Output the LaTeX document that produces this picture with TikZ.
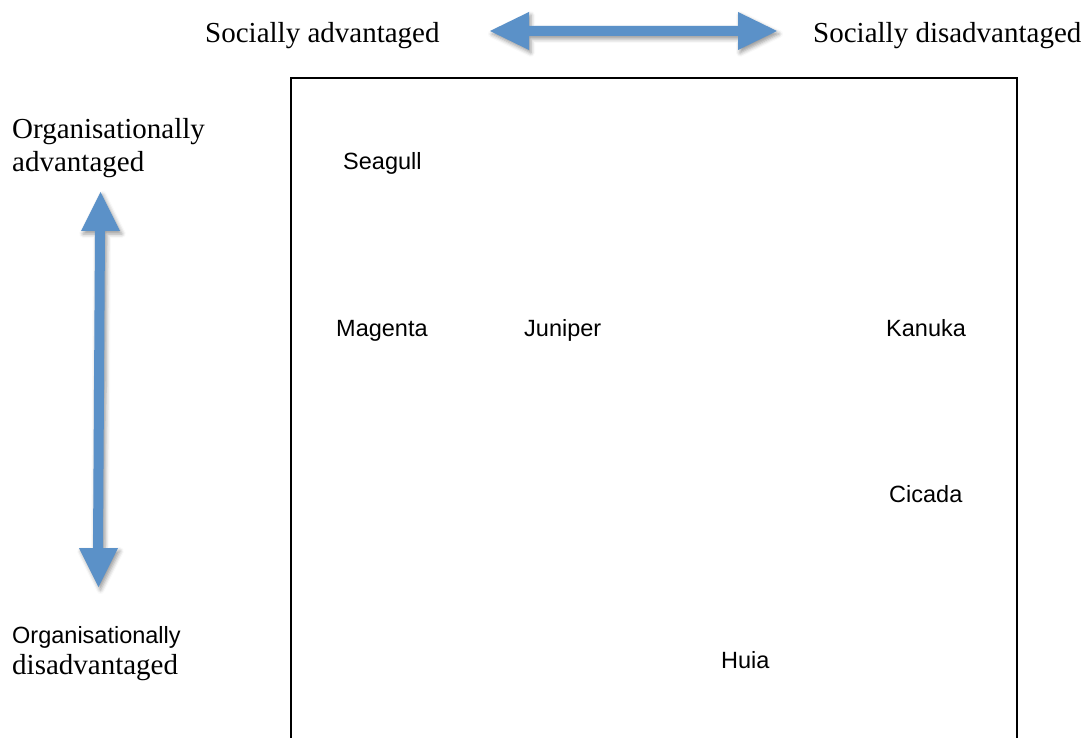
\documentclass[tikz,border=0pt]{standalone}
\usepackage{fontspec}
\setmainfont{Liberation Serif}
\newfontfamily\arialfont{Liberation Sans}
\usetikzlibrary{shadows.blur}
\definecolor{arrowblue}{RGB}{91,145,200}
\tikzset{
  serif/.style={anchor=base west, inner sep=0pt, font=\fontsize{29}{33}\selectfont},
  sanslbl/.style={anchor=base west, inner sep=0pt, font=\arialfont\fontsize{23.5}{27}\selectfont},
  fatarrow/.style={fill=arrowblue, draw=none,
    blur shadow={shadow xshift=2pt, shadow yshift=-3pt, shadow blur radius=4pt, shadow opacity=40}},
  frame/.style={draw=black, line width=2.3pt}
}
\begin{document}
\begin{tikzpicture}[x=1pt,y=-1pt]
\useasboundingbox (0,0) rectangle (1085,738);
% top labels
\node[serif] (sa) at (205,43) {Socially advantaged};
\node[serif] (sd) at (813,43) {Socially disadvantaged};
% horizontal arrow
\path[fatarrow] (490,31) -- (529,12) -- (529,26) -- (738,26) -- (738,12) -- (777,31)
  -- (738,50) -- (738,36) -- (529,36) -- (529,50) -- cycle;
% left labels
\node[serif] (oa1) at (12,139) {Organisationally};
\node[serif] (oa2) at (12,172) {advantaged};
\node[sanslbl] (od1) at (12,643) {Organisationally};
\node[serif] (od2) at (12,674) {disadvantaged};
% vertical arrow
\path[fatarrow] (100.5,192) -- (120,231) -- (105,231) -- (103,548) -- (118,548) -- (98.5,587)
  -- (79,548) -- (93,548) -- (95,231) -- (81,231) -- cycle;
% frame (open at the bottom)
\draw[frame] (291,745) -- (291,78) -- (1017,78) -- (1017,745);
% items
\node[sanslbl] (seagull) at (343,170) {Seagull};
\node[sanslbl] (magenta) at (336,336) {Magenta};
\node[sanslbl] (juniper) at (524,336) {Juniper};
\node[sanslbl] (kanuka) at (886,336) {Kanuka};
\node[sanslbl] (cicada) at (889,502) {Cicada};
\node[sanslbl] (huia) at (721,668) {Huia};
\end{tikzpicture}
\end{document}
